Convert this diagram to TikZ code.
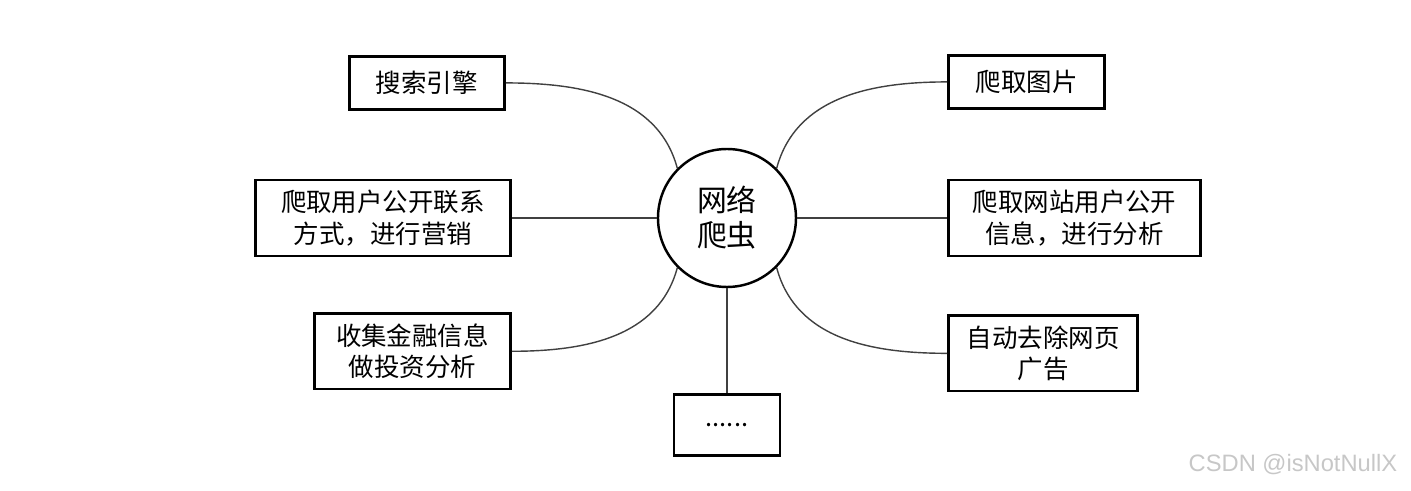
\documentclass[tikz,border=0pt]{standalone}
\usepackage{fontspec}
\newfontfamily\cjk{Noto Sans CJK SC}
\setsansfont{Liberation Sans}
\usepackage{tikz}
\usetikzlibrary{positioning}
\tikzset{
  box/.style={draw, line width=1.5pt, fill=white, font=\cjk\fontsize{14.5}{18}\selectfont, inner xsep=0pt, inner ysep=2mm, minimum height=10.6mm, align=center},
  hub/.style={circle, draw, line width=1.4pt, fill=white, font=\cjk\fontsize{17}{20}\selectfont, minimum size=27.6mm, inner sep=0pt, align=center},
  link/.style={line width=0.8pt, black!75},
  credit/.style={font=\sffamily\fontsize{13.5}{16}\selectfont, text=black!22},
}

\begin{document}
\begin{tikzpicture}
\useasboundingbox (-14.54,-5.46) rectangle (13.68,4.36);
\node[hub] (hub) at (0,0) {网络\\爬虫};
\node[box, minimum width=51mm, left=29mm of hub] (contact) {爬取用户公开联系\\方式，进行营销};
\node[box, minimum width=31mm, above=13.6mm of contact.north east, anchor=south east, xshift=-1.2mm] (search) {搜索引擎};
\node[box, minimum width=39.2mm, below=11mm of contact.south east, anchor=north east] (finance) {收集金融信息\\做投资分析};
\node[box, minimum width=50.4mm, right=30mm of hub] (site) {爬取网站用户公开\\信息，进行分析};
\node[box, minimum width=31.2mm, above=13.8mm of site.north west, anchor=south west] (images) {爬取图片};
\node[box, minimum width=37.8mm, below=11.4mm of site.south west, anchor=north west] (ads) {自动去除网页\\广告};
\node[box, minimum width=21.2mm, minimum height=12.2mm, below=21mm of hub] (more) {......};

\draw[link] (search.east) to[out=0, in=105] (hub.135);
\draw[link] (contact) -- (hub);
\draw[link] (finance.east) to[out=0, in=-105] (hub.-135);
\draw[link] (images.west) to[out=180, in=75] (hub.45);
\draw[link] (site) -- (hub);
\draw[link] (ads.west) to[out=180, in=-75] (hub.-45);
\draw[link] (hub) -- (more);

\node[credit] (mark-text) at (11.32,-4.94) {CSDN @isNotNullX};
\end{tikzpicture}
\end{document}
